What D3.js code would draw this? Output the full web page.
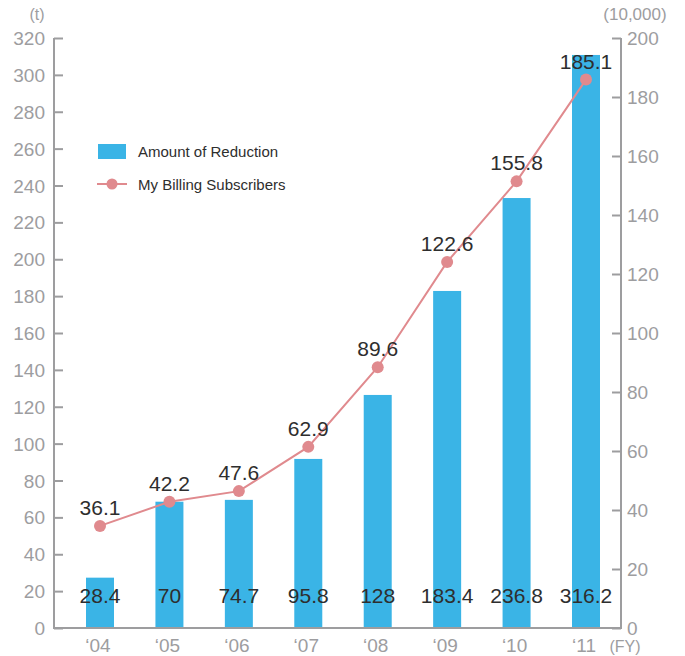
<!DOCTYPE html>
<html><head><meta charset="utf-8">
<script src="https://cdn.jsdelivr.net/npm/d3@7/dist/d3.min.js"></script>
<style>body{margin:0;background:#fff}svg{display:block}</style>
</head><body><div id="chart"></div>
<script>
const years = ["‘04","‘05","‘06","‘07","‘08","‘09","‘10","‘11"];
const reductionDrawn = [27.3, 68.5, 69.5, 91.7, 126.4, 182.8, 233.2, 310.8];
const reductionLabels = ["28.4","70","74.7","95.8","128","183.4","236.8","316.2"];
const subscribersDrawn = [34.6, 42.8, 46.4, 61.4, 88.4, 124.1, 151.4, 185.9];
const subscriberLabels = ["36.1","42.2","47.6","62.9","89.6","122.6","155.8","185.1"];
const leftTicks = d3.range(0, 321, 20);
const rightTicks = d3.range(0, 201, 20);

const W = 685, H = 656;
const x0 = 54, x1 = 621, yTop = 38, yBot = 628;
const font = "'Liberation Sans', Arial, sans-serif";
const gray = "#9d9d9f";
const barColor = "#3ab4e6";
const lineColor = "#e08a8e";
const textColor = "#2e2e2e";

const svg = d3.select("#chart").append("svg").attr("width", W).attr("height", H);

const x = d3.scalePoint().domain(years).range([100, 586]);
const yL = d3.scaleLinear().domain([0, 320]).range([yBot, yTop]);
const yR = d3.scaleLinear().domain([0, 200]).range([yBot, yTop]);
const barW = 28;

// bars
svg.append("g").selectAll("rect").data(reductionDrawn).join("rect")
  .attr("x", (d, i) => x(years[i]) - barW / 2)
  .attr("y", d => yL(d))
  .attr("width", barW)
  .attr("height", d => yBot - yL(d))
  .attr("fill", barColor);

// left axis
const gl = svg.append("g").attr("transform", `translate(${x0},0)`)
  .call(d3.axisRight(yL).tickValues(leftTicks).tickSize(9).tickFormat(""));
gl.select(".domain").remove();
gl.selectAll("line").attr("stroke", gray).attr("stroke-width", 2);
svg.append("g").selectAll("text").data(leftTicks).join("text")
  .attr("x", x0 - 9).attr("y", d => yL(d) + 7)
  .attr("text-anchor", "end").attr("font-family", font).attr("font-size", 19)
  .attr("fill", gray).text(d => d);

// right axis
const gr = svg.append("g").attr("transform", `translate(${x1},0)`)
  .call(d3.axisLeft(yR).tickValues(rightTicks).tickSize(9).tickFormat(""));
gr.select(".domain").remove();
gr.selectAll("line").attr("stroke", gray).attr("stroke-width", 2);
svg.append("g").selectAll("text").data(rightTicks).join("text")
  .attr("x", x1 + 6).attr("y", d => yR(d) + 7)
  .attr("text-anchor", "start").attr("font-family", font).attr("font-size", 19)
  .attr("fill", gray).text(d => d);

// axis lines
svg.append("path")
  .attr("d", `M${x0},${yTop}V${yBot}H${x1}V${yTop}`)
  .attr("fill", "none").attr("stroke", gray).attr("stroke-width", 2);

// x labels
svg.append("g").selectAll("text").data(years).join("text")
  .attr("x", d => x(d) - 2).attr("y", 652)
  .attr("text-anchor", "middle").attr("font-family", font).attr("font-size", 19)
  .attr("fill", gray).text(d => d);

// unit labels
svg.append("text").attr("x", 37).attr("y", 20).attr("text-anchor", "middle")
  .attr("font-family", font).attr("font-size", 16).attr("fill", gray).text("(t)");
svg.append("text").attr("x", 635).attr("y", 20).attr("text-anchor", "middle")
  .attr("font-family", font).attr("font-size", 17).attr("fill", gray).text("(10,000)");
svg.append("text").attr("x", 625).attr("y", 652).attr("text-anchor", "middle")
  .attr("font-family", font).attr("font-size", 16).attr("fill", gray).text("(FY)");

// bar labels
svg.append("g").selectAll("text").data(reductionLabels).join("text")
  .attr("x", (d, i) => x(years[i])).attr("y", 603)
  .attr("text-anchor", "middle").attr("font-family", font).attr("font-size", 21)
  .attr("fill", textColor).text(d => d);

// line
const line = d3.line().x((d, i) => x(years[i])).y(d => yR(d));
svg.append("path").datum(subscribersDrawn).attr("d", line)
  .attr("fill", "none").attr("stroke", lineColor).attr("stroke-width", 2);
svg.append("g").selectAll("circle").data(subscribersDrawn).join("circle")
  .attr("cx", (d, i) => x(years[i])).attr("cy", d => yR(d)).attr("r", 6)
  .attr("fill", lineColor);
svg.append("g").selectAll("text").data(subscriberLabels).join("text")
  .attr("x", (d, i) => x(years[i])).attr("y", (d, i) => yR(subscribersDrawn[i]) - 11)
  .attr("text-anchor", "middle").attr("font-family", font).attr("font-size", 21)
  .attr("fill", textColor).text(d => d);

// legend
svg.append("rect").attr("x", 98).attr("y", 144).attr("width", 28).attr("height", 15).attr("fill", barColor);
svg.append("text").attr("x", 138).attr("y", 157).attr("font-family", font).attr("font-size", 15)
  .attr("fill", textColor).text("Amount of Reduction");
svg.append("line").attr("x1", 97).attr("x2", 127).attr("y1", 184).attr("y2", 184)
  .attr("stroke", lineColor).attr("stroke-width", 2);
svg.append("circle").attr("cx", 112).attr("cy", 184).attr("r", 5.5).attr("fill", lineColor);
svg.append("text").attr("x", 138).attr("y", 190).attr("font-family", font).attr("font-size", 15)
  .attr("fill", textColor).text("My Billing Subscribers");
</script></body></html>
